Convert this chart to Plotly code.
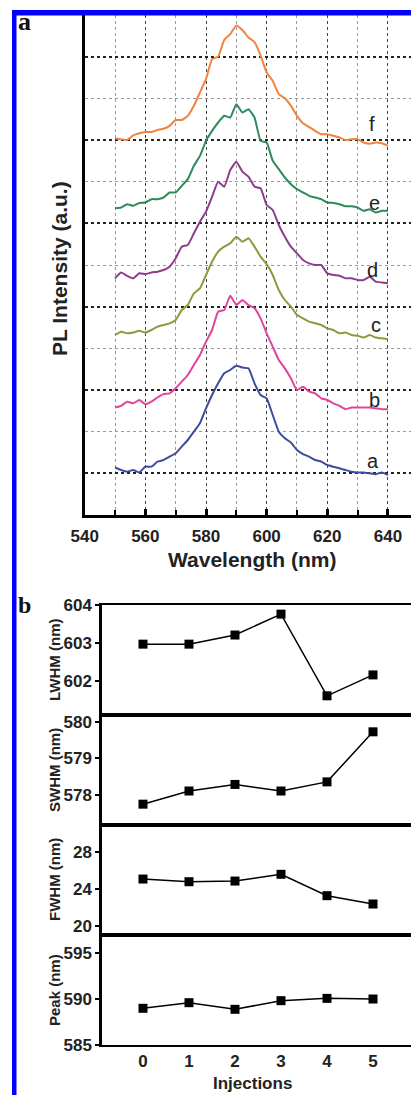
import plotly.graph_objects as go

# ---------------- data ----------------
wavelength = list(range(550, 641, 2))

spec_a = [1.14, 1.08, 1.04, 1.08, 1.02, 1.16, 1.16, 1.28, 1.32, 1.40, 1.48, 1.64, 1.80, 2.00, 2.20, 2.56,
          2.88, 3.16, 3.40, 3.48, 3.58, 3.54, 3.52, 3.16, 2.88, 2.80, 2.40, 2.00, 1.84, 1.74, 1.56, 1.46,
          1.40, 1.32, 1.28, 1.20, 1.16, 1.12, 1.08, 1.04, 1.02, 1.02, 1.00, 0.98, 1.02, 0.96]
spec_b = [2.58, 2.62, 2.72, 2.68, 2.76, 2.66, 2.72, 2.82, 2.90, 2.92, 3.04, 3.20, 3.36, 3.60, 3.84, 4.16,
          4.44, 4.88, 4.92, 5.26, 5.04, 5.16, 5.04, 4.96, 4.72, 4.36, 4.04, 3.72, 3.52, 3.28, 3.00, 3.08,
          2.96, 2.92, 2.80, 2.76, 2.68, 2.62, 2.54, 2.58, 2.58, 2.58, 2.58, 2.56, 2.54, 2.54]
spec_c = [4.32, 4.40, 4.36, 4.38, 4.42, 4.38, 4.44, 4.52, 4.56, 4.60, 4.68, 4.92, 5.04, 5.32, 5.44, 5.76,
          6.08, 6.32, 6.44, 6.52, 6.68, 6.56, 6.64, 6.44, 6.20, 6.02, 5.76, 5.40, 5.16, 5.00, 4.80, 4.72,
          4.64, 4.60, 4.56, 4.48, 4.44, 4.36, 4.38, 4.32, 4.30, 4.26, 4.32, 4.26, 4.24, 4.22]
spec_d = [5.68, 5.82, 5.74, 5.68, 5.80, 5.78, 5.82, 5.84, 5.88, 5.96, 6.16, 6.44, 6.48, 6.76, 7.04, 7.28,
          7.64, 8.00, 7.88, 8.28, 8.48, 8.24, 8.12, 7.88, 7.84, 7.44, 7.32, 6.96, 6.68, 6.44, 6.28, 6.12,
          6.04, 6.00, 6.00, 5.80, 5.76, 5.74, 5.68, 5.68, 5.64, 5.64, 5.72, 5.60, 5.58, 5.56]
spec_e = [7.36, 7.38, 7.46, 7.42, 7.49, 7.50, 7.58, 7.58, 7.62, 7.74, 7.74, 7.90, 8.06, 8.38, 8.62, 8.98,
          9.22, 9.42, 9.58, 9.54, 9.86, 9.66, 9.74, 9.54, 8.98, 8.94, 8.50, 8.30, 8.10, 7.94, 7.82, 7.74,
          7.66, 7.62, 7.58, 7.50, 7.49, 7.46, 7.41, 7.41, 7.38, 7.30, 7.34, 7.26, 7.30, 7.30]
spec_f = [9.04, 9.02, 9.00, 9.11, 9.16, 9.19, 9.19, 9.24, 9.27, 9.34, 9.48, 9.48, 9.58, 9.82, 10.14, 10.46,
          10.94, 11.00, 11.40, 11.54, 11.75, 11.64, 11.46, 11.35, 11.03, 10.62, 10.42, 10.10, 10.00, 9.82,
          9.58, 9.40, 9.31, 9.22, 9.14, 9.14, 9.10, 9.06, 9.00, 9.02, 9.02, 8.94, 8.91, 8.94, 8.92, 8.86]

spectra = [spec_a, spec_b, spec_c, spec_d, spec_e, spec_f]
spec_names = ["a", "b", "c", "d", "e", "f"]
spec_colors = ["#3C4C9E", "#E0449C", "#8C9A3C", "#8E3C8E", "#2E8B5C", "#F2823E"]
label_x = [635.0, 635.7, 636.0, 635.0, 635.7, 634.7]
label_y = [1.30, 2.76, 4.57, 5.87, 7.50, 9.38]

injections = [0, 1, 2, 3, 4, 5]
lwhm = [602.97, 602.97, 603.21, 603.76, 601.61, 602.16]
swhm = [577.75, 578.11, 578.29, 578.11, 578.36, 579.73]
fwhm = [25.08, 24.79, 24.86, 25.59, 23.28, 22.38]
peak = [588.99, 589.60, 588.88, 589.82, 590.07, 590.00]

W, H = 411, 1095


def px(x):
    return x / W


def py(y):
    return 1 - y / H


fig = go.Figure()

# ---------------- panel a ----------------
for vals, name, col in zip(spectra, spec_names, spec_colors):
    fig.add_trace(go.Scatter(x=wavelength, y=vals, mode="lines", name=name,
                             line=dict(color=col, width=2, shape="spline", smoothing=0.4),
                             xaxis="x", yaxis="y", showlegend=False))

annotations = []
for name, lx, ly in zip(spec_names, label_x, label_y):
    annotations.append(dict(x=lx, y=ly, xref="x", yref="y", text=name, showarrow=False,
                            font=dict(family="Arial, Liberation Sans", size=20, color="#222")))

# ---------------- panel b ----------------
series_b = [lwhm, swhm, fwhm, peak]
for i, vals in enumerate(series_b):
    n = i + 2
    fig.add_trace(go.Scatter(x=injections, y=vals, mode="lines+markers",
                             line=dict(color="black", width=1.5),
                             marker=dict(symbol="square", size=9, color="black"),
                             xaxis=f"x{n}", yaxis=f"y{n}", showlegend=False))

bold = dict(family="Arial, Liberation Sans", size=17, color="#222", weight="bold")

layout = dict(
    width=W, height=H, margin=dict(l=0, r=0, t=0, b=0, autoexpand=False),
    paper_bgcolor="white", plot_bgcolor="white",
    xaxis=dict(domain=[px(84.7), 1], range=[540, 647.6], anchor="y",
               tickmode="linear", tick0=540, dtick=20, ticks="inside", ticklen=6, tickwidth=2.5,
               tickcolor="black", tickfont=bold, ticklabelstandoff=4,
               showgrid=True, gridcolor="#444", griddash="dot", gridwidth=1.2,
               minor=dict(tickmode="linear", tick0=550, dtick=20, ticks="inside", ticklen=5,
                          tickwidth=1.5, tickcolor="black", showgrid=True,
                          gridcolor="#999", griddash="dot", gridwidth=1),
               showline=True, linewidth=3, linecolor="black", zeroline=False),
    yaxis=dict(domain=[py(515), py(15)], range=[0, 12], anchor="x",
               tickmode="linear", tick0=1, dtick=2, ticks="", showticklabels=False,
               showgrid=True, gridcolor="#222", griddash="dot", gridwidth=1.8,
               minor=dict(tickmode="linear", tick0=0, dtick=2, showgrid=True,
                          gridcolor="#999", griddash="dot", gridwidth=1),
               showline=True, linewidth=3, linecolor="black", zeroline=False),
)

b_tops = [605, 715, 825, 935]
b_bots = [715, 825, 935, 1045]
b_ranges = [[601.105, 604.0], [577.18, 580.19], [19.03, 30.92], [585.0, 596.96]]
b_ticks = [[602, 603, 604], [578, 579, 580], [20, 24, 28], [585, 590, 595]]
b_titles = ["LWHM (nm)", "SWHM (nm)", "FWHM (nm)", "Peak (nm)"]

for i in range(4):
    n = i + 2
    layout[f"xaxis{n}"] = dict(domain=[px(102), 1], range=[-0.891, 5.826], anchor=f"y{n}",
                               tickmode="array", tickvals=injections,
                               showticklabels=(i == 3), ticks="", tickfont=bold,
                               showline=True, mirror=True, linewidth=2, linecolor="black",
                               showgrid=False, zeroline=False)
    layout[f"yaxis{n}"] = dict(domain=[py(b_bots[i]), py(b_tops[i])], range=b_ranges[i],
                               anchor=f"x{n}", tickmode="array", tickvals=b_ticks[i],
                               ticks="outside", ticklen=4, tickwidth=2, tickcolor="black",
                               tickfont=bold, showline=True, linewidth=2.5, linecolor="black",
                               showgrid=False, zeroline=False)
    annotations.append(dict(x=px(54), y=py((b_tops[i] + b_bots[i]) / 2), xref="paper", yref="paper",
                            text=b_titles[i], textangle=-90, showarrow=False,
                            xanchor="center", yanchor="middle",
                            font=dict(family="Arial, Liberation Sans", size=15, color="#222",
                                      weight="bold")))

# axis titles / panel letters
annotations += [
    dict(x=px(59), y=py(268), xref="paper", yref="paper", text="PL Intensity (a.u.)",
         textangle=-90, showarrow=False, xanchor="center", yanchor="middle",
         font=dict(family="Arial, Liberation Sans", size=21, color="#222", weight="bold")),
    dict(x=px(252), y=py(559), xref="paper", yref="paper", text="Wavelength (nm)",
         showarrow=False, xanchor="center", yanchor="middle",
         font=dict(family="Arial, Liberation Sans", size=21, color="#222", weight="bold")),
    dict(x=px(252), y=py(1083), xref="paper", yref="paper", text="Injections",
         showarrow=False, xanchor="center", yanchor="middle",
         font=dict(family="Arial, Liberation Sans", size=17, color="#222", weight="bold")),
    dict(x=px(24), y=py(22), xref="paper", yref="paper", text="a",
         showarrow=False, xanchor="center", yanchor="middle",
         font=dict(family="Liberation Serif, Times New Roman", size=26, color="#111", weight="bold")),
    dict(x=px(24), y=py(605), xref="paper", yref="paper", text="b",
         showarrow=False, xanchor="center", yanchor="middle",
         font=dict(family="Liberation Serif, Times New Roman", size=24, color="#111", weight="bold")),
]
layout["annotations"] = annotations

layout["shapes"] = [
    dict(type="rect", xref="paper", yref="paper", x0=px(12), x1=px(16.5), y0=-0.01, y1=py(10),
         fillcolor="#0000FF", line=dict(width=0), layer="above"),
    dict(type="rect", xref="paper", yref="paper", x0=px(12), x1=1.01, y0=py(15.5), y1=py(10),
         fillcolor="#0000FF", line=dict(width=0), layer="above"),
]

fig.update_layout(**layout)
fig.write_html("out.html", config={"displayModeBar": False},
               post_script="document.body.style.margin='0';"
                           "document.documentElement.style.overflow='hidden';"
                           "document.body.style.overflow='hidden';")
